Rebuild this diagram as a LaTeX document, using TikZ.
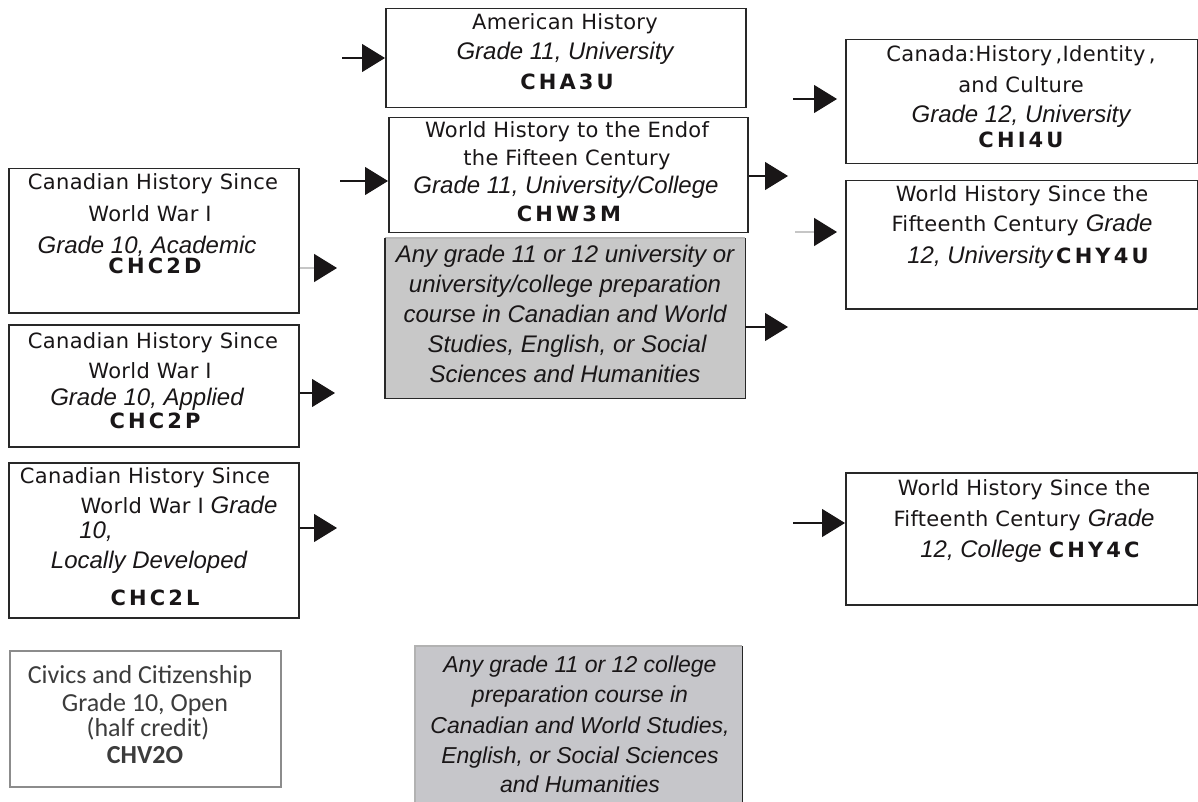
\documentclass[tikz,border=0pt]{standalone}
\usepackage{fontspec}
\setmainfont{DejaVu Sans}[LetterSpace=1.5]
\newfontfamily\itf{Liberation Sans}
\newfontfamily\cf{DejaVu Sans}[LetterSpace=15]
\newfontfamily\cvf{Carlito}
\usetikzlibrary{arrows.meta}
\definecolor{ink}{RGB}{25,22,23}
\definecolor{boxc}{RGB}{40,40,40}
\definecolor{greyA}{RGB}{200,200,200}
\definecolor{greyB}{RGB}{198,198,202}
\definecolor{civc}{RGB}{60,60,60}
\newcommand\gi[1]{{\itf\itshape\fontsize{24}{28}\selectfont #1}}
\newcommand\cc[1]{{\cf\bfseries\fontsize{21}{24}\selectfont #1}}
\newcommand\tline[4]{\node[txt] (#1) at (#2,#3) {#4};}
\newcommand\gline[4]{\node[gtxt] (#1) at (#2,#3) {#4};}
\newcommand\gbline[4]{\node[htxt] (#1) at (#2,#3) {#4};}
\newcommand\cvline[4]{\node[ctxt] (#1) at (#2,#3) {#4};}
\begin{document}
\begin{tikzpicture}[x=1pt,y=-1pt,
  box/.style={draw=boxc, line width=1.5pt, inner sep=0pt, anchor=north west},
  gbox/.style={inner sep=0pt, anchor=north west},
  txt/.style={anchor=base, inner sep=0pt, text=ink, font=\fontsize{21}{25}\selectfont},
  gtxt/.style={anchor=base, inner sep=0pt, text=ink, font=\itf\itshape\fontsize{24}{27}\selectfont},
  htxt/.style={anchor=base, inner sep=0pt, text=ink, font=\itf\itshape\fontsize{23}{27}\selectfont},
  ctxt/.style={anchor=base, inner sep=0pt, text=civc, font=\cvf\fontsize{26}{26}\selectfont},
  arr/.style={draw=ink, line width=1.2pt, -{Triangle[length=23pt,width=28pt]}},
  arrg/.style={draw=gray!45, line width=1.5pt, -{Triangle[length=23pt,width=28pt,color=ink]}}]
\useasboundingbox (0,0) rectangle (1198,802);
\fill[white] (0,0) rectangle (1198,802);

% boxes
\node[box, minimum width=360pt, minimum height=99pt] (cha) at (385,8) {};
\node[box, minimum width=359pt, minimum height=115pt] (chw) at (388,117) {};
\node[gbox, fill=greyA, minimum width=360pt, minimum height=160pt] (g1) at (385,238) {};
\draw[gray!55, line width=1.5pt] (g1.north west) -- (g1.north east);
\draw[boxc, line width=1.8pt] (g1.north west) -- (g1.south west) -- (g1.south east) -- (g1.north east);
\node[box, minimum width=352pt, minimum height=124pt] (chi) at (845,39) {};
\node[box, minimum width=352pt, minimum height=128pt] (chy) at (845,180) {};
\node[box, minimum width=290pt, minimum height=144pt] (chcd) at (8,168) {};
\node[box, minimum width=290pt, minimum height=122pt] (chcp) at (8,324) {};
\node[box, minimum width=290pt, minimum height=155pt] (chcl) at (8,462) {};
\node[box, minimum width=352pt, minimum height=132pt] (chyc) at (845,472) {};
\node[box, draw=gray!90, line width=1.5pt, minimum width=271pt, minimum height=136pt] (chv) at (9,650) {};
\node[gbox, fill=greyB, minimum width=327pt, minimum height=170pt] (g2) at (415,646) {};
\draw[gray!60, line width=1.5pt] (g2.south west) -- (g2.north west) -- (g2.north east);
\draw[gray!30!black, line width=1.8pt] (g2.north east) -- (g2.south east);

% CHA3U
\tline{cha1}{565}{30}{American History}
\tline{cha2}{565}{60}{\gi{Grade 11, University}}
\tline{cha3}{567}{90}{\cc{CHA3U}}
% CHW3M
\tline{chw1}{567}{138}{World History to the Endof}
\tline{chw2}{567}{166}{the Fifteen Century}
\tline{chw3}{566}{194}{\gi{Grade 11, University/College}}
\tline{chw4}{569}{222}{\cc{CHW3M}}
% grey box 1
\gline{ga1}{565}{262}{Any grade 11 or 12 university or}
\gline{ga2}{565}{292}{university/college preparation}
\gline{ga3}{565}{322}{course in Canadian and World}
\gline{ga4}{567}{352}{Studies, English, or Social}
\gline{ga5}{565}{382}{Sciences and Humanities}
% CHI4U
\tline{chi1}{1021}{62}{Canada:History\,,Identity\,,}
\tline{chi2}{1021}{93}{and Culture}
\tline{chi3}{1021}{123}{\gi{Grade 12, University}}
\tline{chi4}{1021}{148}{\cc{CHI4U}}
% CHY4U
\tline{chy1}{1022}{202}{World History Since the}
\tline{chy2}{1022}{232}{Fifteenth Century \gi{Grade}}
\tline{chy3}{1028}{263}{\gi{12, University}\,\cc{CHY4U}}
% CHC2D
\tline{cd1}{153}{190}{Canadian History Since}
\tline{cd2}{150}{222}{World War I}
\tline{cd3}{147}{253}{\gi{Grade 10, Academic}}
\tline{cd4}{155}{273}{\cc{CHC2D}}
% CHC2P
\tline{cp1}{153}{348}{Canadian History Since}
\tline{cp2}{150}{378}{World War I}
\tline{cp3}{147}{405}{\gi{Grade 10, Applied}}
\tline{cp4}{155}{428}{\cc{CHC2P}}
% CHC2L
\tline{cl1}{145}{483}{Canadian History Since}
\tline{cl2}{179}{513}{World War I \gi{Grade}}
\tline{cl3}{96}{538}{\gi{10,}}
\tline{cl4}{149}{568}{\gi{Locally Developed}}
\tline{cl5}{155}{605}{\cc{CHC2L}}
% CHY4C
\tline{cyc1}{1024}{495}{World History Since the}
\tline{cyc2}{1024}{526}{Fifteenth Century \gi{Grade}}
\tline{cyc3}{1030}{557}{\gi{12, College} \cc{CHY4C}}
% CHV2O
\cvline{cv1}{140}{683}{Civics and Citizenship}
\cvline{cv2}{145}{711}{Grade 10, Open}
\cvline{cv3}{148}{736}{(half credit)}
\cvline{cv4}{145}{763}{\bfseries CHV2O}
% grey box 2
\gbline{gb1}{580}{672}{Any grade 11 or 12 college}
\gbline{gb2}{580}{702}{preparation course in}
\gbline{gb3}{580}{733}{Canadian and World Studies,}
\gbline{gb4}{580}{763}{English, or Social Sciences}
\gbline{gb5}{580}{792}{and Humanities}

% arrows
\coordinate (a1) at (342,58);
\draw[arr] (a1) -- (a1 -| cha.west);
\coordinate (a2) at (340,181);
\draw[arr] (a2) -- (a2 -| chw.west);
\coordinate (a3) at (788,176);
\draw[arr] (a3 -| chw.east) -- (a3);
\coordinate (a4) at (793,99);
\draw[arr, shorten >=8pt] (a4) -- (a4 -| chi.west);
\coordinate (a5) at (795,232);
\draw[arrg, shorten >=8pt] (a5) -- (a5 -| chy.west);
\coordinate (a6) at (337,268);
\draw[arrg] (a6 -| chcd.east) -- (a6);
\coordinate (a7) at (335,393);
\draw[arr] (a7 -| chcp.east) -- (a7);
\coordinate (a8) at (337,528);
\draw[arr] (a8 -| chcl.east) -- (a8);
\coordinate (a9) at (788,327);
\draw[arr] (a9 -| g1.east) -- (a9);
\coordinate (a10) at (793,523);
\draw[arr] (a10) -- (a10 -| chyc.west);
\end{tikzpicture}
\end{document}
